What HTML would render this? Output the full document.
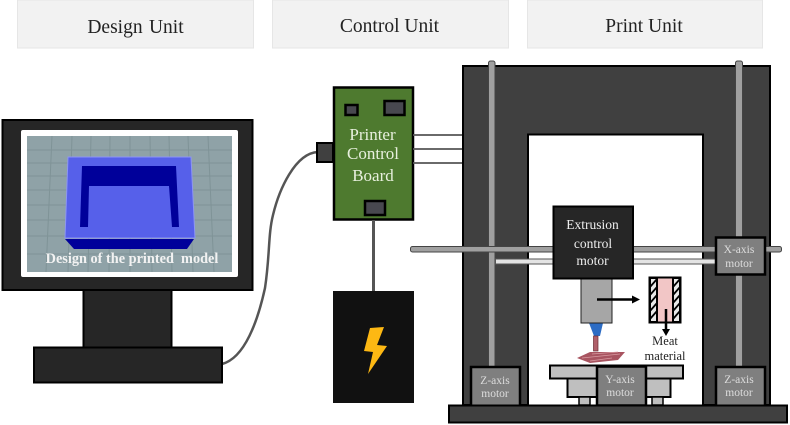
<!DOCTYPE html>
<html><head><meta charset="utf-8"><style>
html,body{margin:0;padding:0;background:#fff;width:790px;height:425px;overflow:hidden}
svg{display:block;filter:blur(.35px)}
text{font-family:"Liberation Serif",serif;text-anchor:middle}
</style></head><body>
<svg width="790" height="425" viewBox="0 0 790 425" xmlns="http://www.w3.org/2000/svg">
<rect width="790" height="425" fill="#fff"/>
<!-- headers -->
<g fill="#f2f2f2" stroke="#e6e6e6" stroke-width="1">
<rect x="17.500" y="0" width="236" height="48"/><rect x="272.500" y="0" width="236" height="48"/><rect x="527.500" y="0" width="235" height="48"/>
</g>
<g font-size="19.500" fill="#222">
<text x="135.500" y="33" word-spacing="1.500">Design Unit</text>
<text x="389.500" y="32">Control Unit</text>
<text x="644" y="32">Print Unit</text>
</g>
<!-- cable -->
<path d="M222 364 C245 358 258 320 265 288 C270 255 268 235 273 215 C279 190 295 153 318 152" fill="none" stroke="#555" stroke-width="2.500"/>
<!-- monitor -->
<rect x="83.500" y="285" width="88" height="63" fill="#262626" stroke="#000" stroke-width="2"/>
<rect x="34" y="347.500" width="188" height="35" fill="#262626" stroke="#000" stroke-width="2"/>
<rect x="2.500" y="120" width="250" height="170" fill="#262626" stroke="#000" stroke-width="2"/>
<rect x="21" y="130" width="217" height="147" rx="2" fill="#fff"/>
<rect x="27" y="136" width="205" height="136" fill="#8fa2a7"/>
<g stroke="#7f9397" stroke-width="1" fill="none">
<path d="M27 150H232M27 163H232M27 176H232M27 190H232M27 205H232M27 220H232M27 236H232M27 254H232"/>
<path d="M52 136L46 272M72 136L68 272M91 136L88 272M110 136L109 272M130 136V272M150 136L152 272M169 136L172 272M188 136L193 272M208 136L214 272"/>
</g>
<polygon points="68,157 191,157 195,238 65,238" fill="#5660ea" stroke="#8d95f5" stroke-width="1"/>
<polygon points="65,239 194,239 187,249 74,249" fill="#00009a"/>
<polygon points="82,166 176,166 179,227 172,227 169,186 89,186 88,227 80,227" fill="#00009a"/>
<text x="132" y="263" font-size="14.300" font-weight="bold" fill="#f2f2f2" style="white-space:pre">Design of the printed  model</text>
<!-- control board -->
<rect x="317" y="143" width="16" height="19" fill="#404040" stroke="#000" stroke-width="2"/>
<rect x="334" y="87.500" width="79" height="132" fill="#4e7a2f" stroke="#000" stroke-width="2.500"/>
<rect x="345.500" y="105" width="12" height="10" fill="#48484f" stroke="#000" stroke-width="2.500"/>
<rect x="384.500" y="101" width="20" height="14" fill="#48484f" stroke="#000" stroke-width="2.500"/>
<rect x="365" y="201" width="20" height="14" fill="#48484f" stroke="#000" stroke-width="2.500"/>
<g font-size="17" fill="#e8f0de">
<text x="372.500" y="140">Printer</text>
<text x="373" y="159">Control</text>
<text x="373" y="181">Board</text>
</g>
<path d="M373.500 220V291" stroke="#555" stroke-width="3"/>
<rect x="333" y="291" width="81" height="112" fill="#111"/>
<polygon points="370,328 384,327 377,345 387,346 368,374 373,352 364,351" fill="#fdb813"/>
<path d="M413 135H463M413 149H463M413 163H463" stroke="#555" stroke-width="1.800"/>
<!-- frame -->
<path d="M463 66H770V405H703V134.500H528V405H463Z" fill="#404040" stroke="#000" stroke-width="2"/>
<rect x="488.500" y="61" width="6.500" height="345" rx="2" fill="#a0a0a0" stroke="#444" stroke-width="1"/>
<rect x="735.500" y="61" width="7" height="345" rx="2" fill="#a0a0a0" stroke="#444" stroke-width="1"/>
<!-- horizontal rods -->
<rect x="410.500" y="246.500" width="371" height="5.500" rx="2" fill="#a0a0a0" stroke="#444" stroke-width="1"/>
<rect x="495.500" y="259" width="222" height="5" fill="#e4e4e4" stroke="#555" stroke-width="1"/>
<!-- extruder -->
<polygon points="589,323 603,323 600,336 594,336" fill="#2c6cc4"/>
<rect x="593.500" y="336" width="4.500" height="15" fill="#b0606a" stroke="#6b2b33" stroke-width=".7"/>
<rect x="581" y="278" width="31" height="45" fill="#a6a6a6" stroke="#222" stroke-width="1"/>
<rect x="553.500" y="206.500" width="79.500" height="72" fill="#262626" stroke="#000" stroke-width="2"/>
<g font-size="13.500" fill="#eee">
<text x="592.500" y="229">Extrusion</text>
<text x="593" y="248">control</text>
<text x="592.500" y="265">motor</text>
</g>
<!-- meat print -->
<polygon points="577,358 590,352 625,352 618,360 590,363" fill="#a85460"/>
<g stroke="#d89aa0" stroke-width=".7" fill="none">
<path d="M582 358L620 354M590 361L612 358M592 354L618 352"/>
</g>
<!-- arrow -->
<path d="M597 299.500H633" stroke="#000" stroke-width="2.500"/><polygon points="632,295.500 640,299.500 632,303.500" fill="#000"/>
<!-- canister -->
<rect x="649.500" y="277.500" width="31" height="45" fill="#f2c6c6" stroke="#000" stroke-width="2"/>
<g stroke="#000" stroke-width="2" fill="#e8e8e8">
<rect x="650" y="278" width="7" height="44"/>
<rect x="673" y="278" width="7" height="44"/>
</g>
<path d="M650 287L657 279M650 295L657 287M650 303L657 295M650 311L657 303M650 319L657 311M673 287L680 279M673 295L680 287M673 303L680 295M673 311L680 303M673 319L680 311" stroke="#000" stroke-width="1.800"/>
<path d="M666 309V330" stroke="#000" stroke-width="2.500"/><polygon points="662,329 670,329 666,336" fill="#000"/>
<g font-size="12.500" fill="#222">
<text x="665" y="345">Meat</text>
<text x="665" y="360">material</text>
</g>
<!-- table -->
<rect x="550" y="365.500" width="133" height="13" fill="#bfbfbf" stroke="#000" stroke-width="2"/>
<rect x="567.500" y="378.500" width="103" height="18.500" fill="#bfbfbf" stroke="#000" stroke-width="2"/>
<rect x="579" y="397" width="11" height="8" fill="#bfbfbf" stroke="#000" stroke-width="1.500"/>
<rect x="652" y="397" width="11" height="8" fill="#bfbfbf" stroke="#000" stroke-width="1.500"/>
<!-- motors -->
<g fill="#7f7f7f" stroke="#000" stroke-width="2.500">
<rect x="716" y="237.500" width="49" height="37"/>
<rect x="471" y="367" width="49" height="39"/>
<rect x="716" y="367" width="49" height="39"/>
<rect x="597" y="366.500" width="49" height="39"/>
</g>
<g font-size="11.500" fill="#ddd">
<text x="739" y="253">X-axis</text><text x="739" y="267">motor</text>
<text x="495" y="384">Z-axis</text><text x="495" y="397">motor</text>
<text x="739" y="383">Z-axis</text><text x="739" y="396">motor</text>
<text x="620" y="383">Y-axis</text><text x="620" y="396">motor</text>
</g>
<!-- base -->
<rect x="449" y="405.500" width="338" height="17" fill="#404040" stroke="#000" stroke-width="2"/>
</svg>
</body></html>
